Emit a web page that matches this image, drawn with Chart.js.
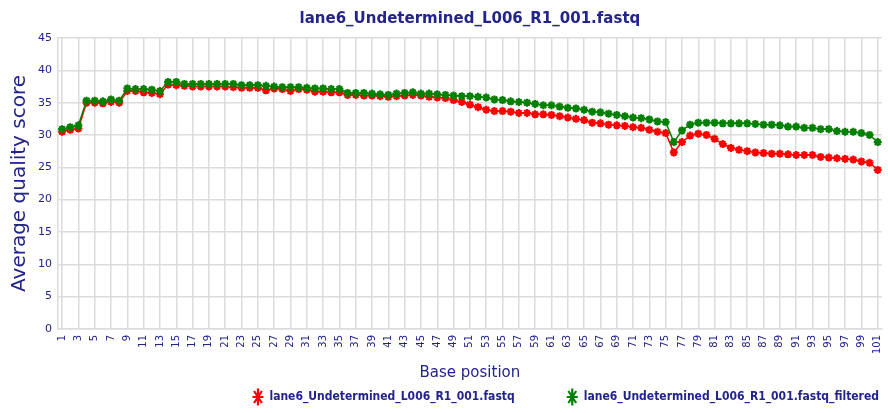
<!DOCTYPE html>
<html>
<head>
<meta charset="utf-8">
<title>lane6_Undetermined_L006_R1_001.fastq</title>
<script src="https://cdn.jsdelivr.net/npm/chart.js@4.4.0/dist/chart.umd.min.js"></script>
<style>
  body { margin: 0; background: #fff; }
  #box { width: 888px; height: 413px; }
</style>
</head>
<body>
<div id="box"><canvas id="grafico"></canvas></div>
<script>
// posicoes 1..101
var posicoes = []
for (var p = 1; p <= 101; p++) posicoes.push(p)

// qualidade media
var qualidade_bruta = [
  30.5, 30.8, 31.0, 35.0, 35.0, 34.9, 35.1, 35.0, 36.8, 36.8,
  36.6, 36.5, 36.3, 37.8, 37.7, 37.6, 37.5, 37.5, 37.5, 37.5,
  37.5, 37.4, 37.3, 37.3, 37.3, 36.9, 37.2, 37.1, 36.8, 37.1,
  37.0, 36.7, 36.7, 36.6, 36.6, 36.2, 36.2, 36.1, 36.1, 36.0,
  35.9, 36.0, 36.1, 36.2, 36.1, 35.9, 35.8, 35.7, 35.4, 35.1,
  34.7, 34.3, 33.9, 33.7, 33.7, 33.6, 33.4, 33.4, 33.2, 33.2,
  33.1, 32.9, 32.7, 32.5, 32.3, 31.9, 31.8, 31.6, 31.5, 31.4,
  31.2, 31.1, 30.8, 30.5, 30.3, 27.3, 28.9, 29.9, 30.2, 30.0,
  29.4, 28.6, 28.0, 27.7, 27.5, 27.3, 27.2, 27.1, 27.1, 27.0,
  26.9, 26.9, 26.9, 26.6, 26.5, 26.4, 26.3, 26.2, 25.9, 25.7,
  24.6
]
var qualidade_filtrada = [
  30.9, 31.2, 31.5, 35.3, 35.3, 35.2, 35.5, 35.3, 37.2, 37.1,
  37.1, 37.0, 36.8, 38.2, 38.2, 37.9, 37.9, 37.9, 37.9, 37.9,
  37.9, 37.9, 37.7, 37.7, 37.7, 37.6, 37.5, 37.4, 37.4, 37.4,
  37.3, 37.2, 37.2, 37.1, 37.1, 36.5, 36.5, 36.5, 36.4, 36.3,
  36.2, 36.4, 36.5, 36.6, 36.4, 36.4, 36.3, 36.2, 36.1, 36.0,
  36.0, 35.9, 35.8, 35.5, 35.4, 35.2, 35.1, 35.0, 34.8, 34.6,
  34.6, 34.4, 34.2, 34.1, 33.9, 33.6, 33.5, 33.3, 33.1, 32.9,
  32.7, 32.6, 32.4, 32.1, 32.0, 28.9, 30.7, 31.6, 31.9, 31.9,
  31.9, 31.8, 31.8, 31.8, 31.8, 31.7, 31.6, 31.6, 31.5, 31.3,
  31.3, 31.1, 31.1, 30.9, 30.9, 30.6, 30.5, 30.5, 30.3, 30.0,
  28.9
]
var nome_bruto = 'lane6_Undetermined_L006_R1_001.fastq'
var nome_filtrado = 'lane6_Undetermined_L006_R1_001.fastq_filtered'

var azul = '#23238c'
var cinza = '#dcdcdc'

var ctx = document.getElementById('grafico')
var meuGrafico = new Chart(ctx, {
  type: 'line',
  data: {
    labels: posicoes,
    datasets: [{
      label: nome_bruto,
      data: qualidade_bruta,
      borderColor: '#ff0000',
      backgroundColor: '#ff0000',
      pointStyle: 'star',
      pointRadius: 4,
      pointBorderWidth: 2.2,
      borderWidth: 1.5,
      order: 1
    }, {
      label: nome_filtrado,
      data: qualidade_filtrada,
      borderColor: '#008000',
      backgroundColor: '#008000',
      pointStyle: 'star',
      pointRadius: 4,
      pointBorderWidth: 2.2,
      borderWidth: 1.5,
      order: 0
    }]
  },
  options: {
    responsive: true,
    maintainAspectRatio: false,
    animation: false,
    layout: { padding: { left: 8, right: 2, top: 4, bottom: 0 } },
    plugins: {
      title: {
        display: true,
        fullSize: false,
        text: nome_bruto,
        color: azul,
        font: { family: 'DejaVu Sans', size: 15, weight: 'bold' },
        padding: { top: 6, bottom: 10 }
      },
      legend: {
        position: 'bottom',
        align: 'end',
        labels: {
          usePointStyle: true,
          pointStyleWidth: 11,
          color: azul,
          font: { family: 'DejaVu Sans Condensed', size: 12, weight: 'bold' },
          padding: 7,
          sort: function (a, b) { return a.datasetIndex - b.datasetIndex },
          generateLabels: function (chart) {
            var itens = Chart.defaults.plugins.legend.labels.generateLabels(chart)
            // espaco entre os dois itens da legenda
            itens.forEach(function (item) {
              if (item.datasetIndex == 0) item.text = item.text + ' '.repeat(12)
            })
            return itens
          }
        }
      },
      tooltip: { enabled: false }
    },
    scales: {
      x: {
        offset: true,
        afterFit: function (escala) {
          // sem folga extra a direita por causa do rotulo girado
          escala.paddingRight = 0
          escala.paddingLeft = 0
        },
        grid: { color: cinza, lineWidth: 1.5, offset: false, drawTicks: false },
        border: { color: cinza, width: 1.5 },
        ticks: {
          autoSkip: false,
          minRotation: 90,
          maxRotation: 90,
          color: azul,
          padding: 6,
          font: { family: 'DejaVu Sans', size: 10 },
          callback: function (valor, indice) {
            return indice % 2 == 0 ? String(posicoes[indice]) : null
          }
        },
        title: {
          display: true,
          text: 'Base position',
          color: azul,
          font: { family: 'DejaVu Sans', size: 15 },
          padding: { top: 4, bottom: 2 }
        }
      },
      y: {
        min: 0,
        max: 45,
        grid: { color: cinza, lineWidth: 1.5, drawTicks: false },
        border: { color: cinza, width: 1.5 },
        ticks: {
          stepSize: 5,
          color: azul,
          padding: 6,
          font: { family: 'DejaVu Sans', size: 11 }
        },
        title: {
          display: true,
          text: 'Average quality score',
          color: azul,
          font: { family: 'DejaVu Sans', size: 20 },
          padding: { top: 0, bottom: 0 }
        }
      }
    }
  }
})
</script>
</body>
</html>
